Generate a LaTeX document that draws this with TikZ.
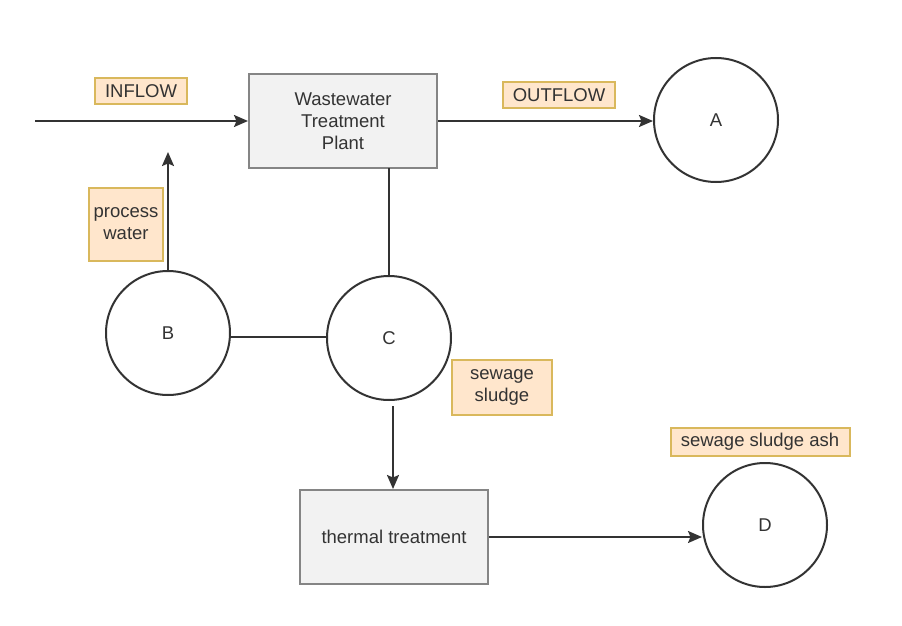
\documentclass[tikz,border=0pt]{standalone}
\usepackage{fontspec}
\setmainfont{Liberation Sans}
\usetikzlibrary{arrows.meta}
\definecolor{boxfill}{HTML}{F2F2F2}
\definecolor{boxline}{HTML}{858585}
\definecolor{tagfill}{HTML}{FFE6CC}
\definecolor{tagline}{HTML}{D9B85C}
\definecolor{ink}{HTML}{333333}
\begin{document}
\begin{tikzpicture}[x=1pt,y=-1pt,
  every node/.style={font=\fontsize{18.5}{22}\selectfont, text=ink},
  procbox/.style={draw=boxline, fill=boxfill, line width=2pt, minimum width=188pt, minimum height=94pt, align=center, inner sep=0pt},
  store/.style={circle, draw=ink, line width=2pt, minimum size=124pt, inner sep=0pt},
  tag/.style={draw=tagline, fill=tagfill, line width=2pt, align=center, inner sep=0pt},
  flow/.style={draw=ink, line width=2pt},
  arr/.style={flow, -{Stealth[length=14pt,width=12pt,inset=2.5pt]}}]
\useasboundingbox (0,0) rectangle (902,626);

% process boxes
\node[procbox] (wwtp) at (343,121) {Wastewater\\Treatment\\Plant};
\node[procbox] (therm) at (394,537) {thermal treatment};

% stores
\node[store] (A) at (716,120) {A};
\node[store] (B) at (168,333) {B};
\node[store] (C) at (389,338) {C};
\node[store] (D) at (765,525) {D};

% flow labels
\node[tag, minimum width=92pt, minimum height=26pt] (tin) at (141,91) {INFLOW};
\node[tag, minimum width=112pt, minimum height=26pt] (tout) at (559,95) {OUTFLOW};
\node[tag, minimum width=74pt, minimum height=73pt] (tpw) at (126,224) {process\\water};
\node[tag, minimum width=100pt, minimum height=55pt] (tss) at (502,387) {sewage\\sludge};
\node[tag, minimum width=179pt, minimum height=28pt] (tash) at (760,442) {sewage sludge ash};

% free ends
\coordinate (src) at (35,121);
\coordinate (pwend) at (168,152);
\coordinate (wwtpdown) at (389,168);
\coordinate (cdown) at (393,406);

% connectors
\draw[arr] (src) -- (wwtp.west);
\draw[arr] (wwtp.east) -- (A.west |- wwtp.east);
\draw[arr] (B.north) -- (pwend);
\draw[flow] (wwtpdown) -- (C.north);
\draw[flow] (B.east |- 0,337) -- (C.west |- 0,337);
\draw[arr] (cdown) -- (therm.north -| cdown);
\draw[arr] (therm.east) -- (D.west |- therm.east);
\end{tikzpicture}
\end{document}
